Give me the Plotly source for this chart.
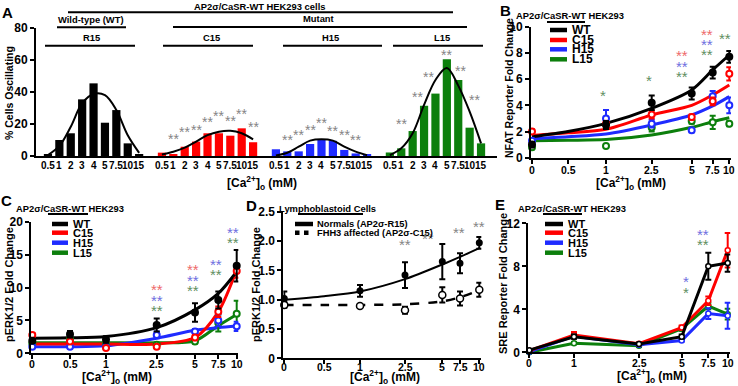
import plotly.graph_objects as go

W, H = 738, 386
FAM = "Liberation Sans, Arial, Helvetica, sans-serif"
BLACK, RED, BLUE, GREEN = "#000000", "#ff0000", "#1f2bff", "#0c7f0c"
SRED, SBLUE, SGREEN, SGRAY = "#ee6a6a", "#6f6fe0", "#5f8f5f", "#858585"

# ---------------- Panel A data ----------------
A_CONC = ["0.5", "1", "2", "3", "4", "5", "7.5", "10", "15"]
A_GROUPS = ["R15", "C15", "H15", "L15"]
A_R15 = [1.2, 10.0, 14.2, 35.4, 45.4, 20.8, 28.7, 7.9, 1.2]
A_C15 = [2.1, 1.0, 5.8, 9.0, 14.2, 14.2, 12.7, 17.3, 8.6]
A_H15 = [4.2, 2.9, 2.9, 7.5, 10.0, 9.5, 3.8, 1.6, 0.8]
A_L15 = [2.2, 4.8, 15.6, 31.4, 39.0, 60.5, 47.5, 17.7, 7.9]
A_FIT_R15 = [0.6, 6.3, 18.3, 33.0, 38.8, 38.0, 28.7, 13.0, 2.0]
A_FIT_C15 = [1.0, 2.7, 5.2, 9.0, 13.0, 15.2, 15.8, 14.2, 10.4]
A_FIT_H15 = [0.3, 2.0, 5.8, 9.6, 10.5, 9.6, 5.8, 2.7, 0.5]
A_FIT_L15 = [0.5, 4.8, 14.2, 31.9, 47.5, 55.0, 44.0, 27.7, 7.9]
A_STAR_C15_AT = [1, 2, 3, 4, 5, 6, 7, 8]
A_STAR_C15_Y = [12.7, 16.7, 18.3, 22.9, 27.1, 24.0, 28.0, 19.8]
A_STAR_H15_AT = [1, 2, 3, 4, 5, 6, 7]
A_STAR_H15_Y = [12.1, 15.2, 18.3, 22.5, 17.7, 15.2, 12.1]
A_STAR_L15_AT = [1, 2.45, 3.4, 5.0, 6.2, 7.4]
A_STAR_L15_Y = [21.9, 39.0, 51.0, 64.8, 54.8, 37.0]

# ---------------- Panel B data (NFAT) ----------------
B_CONC = [0, 1, 2.5, 5, 7.5, 10]
B_WT = [1.0, 2.5, 4.2, 4.9, 6.5, 7.7]
B_WT_ERR = [0.2, 0.3, 0.55, 0.45, 0.45, 0.45]
B_C15 = [2.0, 2.6, 3.3, 3.1, 4.3, 6.4]
B_C15_ERR = [0.15, 0.2, 0.3, 0.2, 0.3, 0.5]
B_H15 = [1.3, 3.0, 2.6, 2.1, 4.7, 4.0]
B_H15_ERR = [0.15, 0.65, 0.3, 0.15, 0.4, 0.6]
B_L15 = [0.8, 0.9, 2.3, 2.8, 2.7, 2.6]
B_L15_ERR = [0.15, 0.15, 0.3, 0.2, 0.5, 0.2]
B_FIT_CONC = [0, 0.5, 1, 2.5, 5, 7.5, 10]
B_FIT_WT = [1.6, 2.0, 2.62, 3.77, 5.17, 6.7, 7.84]
B_FIT_C15 = [1.7, 1.9, 2.17, 3.26, 4.0, 4.79, 5.55]
B_FIT_H15 = [1.45, 1.6, 1.81, 2.5, 3.26, 3.95, 4.66]
B_FIT_L15 = [1.3, 1.33, 1.38, 1.73, 2.32, 2.75, 3.05]
B_STARS = [  # (conc, value, text, colour)
    (0.96, 4.94, "*", SGREEN), (2.4, 6.1, "*", SGREEN),
    (4.4, 8.0, "**", SRED), (4.4, 7.2, "**", SBLUE), (4.4, 6.44, "**", SGREEN),
    (6.8, 9.67, "**", SRED), (6.8, 8.85, "**", SBLUE), (6.8, 8.1, "**", SGREEN),
    (9.4, 10.9, "**", SRED), (9.4, 10.05, "**", SBLUE), (9.4, 9.3, "**", SGREEN),
]

# ---------------- Panel C data (pERK1/2) ----------------
C_CONC = [0, 0.5, 1, 2.5, 5, 7.5, 10]
C_WT = [1.9, 2.9, 2.1, 4.3, 6.2, 8.1, 13.3]
C_WT_ERR = [0.2, 0.5, 0.5, 1.0, 1.4, 1.3, 2.4]
C_C15 = [2.8, 1.8, 0.8, 1.0, 2.4, 6.3, 12.5]
C_C15_ERR = [0.3, 0.2, 0.2, 0.2, 0.4, 0.8, 1.0]
C_H15 = [1.0, 1.0, 1.0, 2.8, 3.3, 5.0, 4.1]
C_H15_ERR = [0.1, 0.1, 0.1, 0.5, 0.4, 0.9, 0.7]
C_L15 = [1.5, 2.1, 1.3, 1.3, 1.8, 4.6, 6.0]
C_L15_ERR = [0.2, 0.2, 0.2, 0.2, 0.3, 1.3, 2.0]
C_FIT_WT = [2.3, 2.35, 2.55, 3.9, 6.6, 9.1, 12.4]
C_FIT_C15 = [1.4, 1.4, 1.4, 1.4, 2.4, 6.3, 12.7]
C_FIT_H15 = [1.0, 1.0, 1.15, 2.3, 3.5, 3.9, 4.15]
C_FIT_L15 = [1.6, 1.6, 1.6, 1.6, 1.9, 4.2, 5.9]
C_STARS = [
    (2.5, 10.1, "**", SRED), (2.5, 8.5, "**", SBLUE), (2.5, 7.0, "**", SGREEN),
    (4.9, 13.2, "**", SRED), (4.9, 11.55, "**", SBLUE), (4.9, 10.0, "**", SGREEN),
    (7.2, 13.9, "**", SBLUE), (7.2, 12.4, "**", SGREEN),
    (9.5, 18.8, "**", SBLUE), (9.5, 17.3, "**", SGREEN),
]

# ---------------- Panel D data (lymphoblastoid pERK1/2) ----------------
D_CONC = [0, 1, 2.5, 5, 7.5, 10]
D_NORM = [1.02, 1.15, 1.42, 1.65, 1.62, 1.97]
D_NORM_ERR = [0.12, 0.1, 0.22, 0.3, 0.17, 0.1]
D_FHH3 = [0.91, 0.89, 0.82, 1.08, 1.02, 1.17]
D_FHH3_ERR = [0.05, 0.03, 0.06, 0.13, 0.12, 0.12]
D_FIT_CONC = [0, 0.5, 1, 2.5, 5, 7.5, 10]
D_FIT_NORM = [1.0, 1.06, 1.14, 1.35, 1.6, 1.73, 1.88]
D_FIT_FHH3 = [0.91, 0.91, 0.91, 0.92, 0.97, 1.04, 1.16]
D_STARS = [(2.5, 1.99), (4.05, 2.1), (7.3, 2.19), (10, 2.3)]

# ---------------- Panel E data (SRE) ----------------
E_CONC = [0, 1, 2.5, 5, 7.5, 10]
E_WT = [0.2, 1.45, 0.78, 1.45, 8.0, 8.3]
E_WT_ERR = [0.05, 0.2, 0.1, 0.2, 1.25, 0.8]
E_C15 = [0.15, 1.6, 0.8, 2.3, 4.8, 9.5]
E_C15_ERR = [0.05, 0.3, 0.1, 0.2, 0.4, 1.6]
E_H15 = [0.05, 1.5, 0.7, 1.1, 3.6, 3.4]
E_H15_ERR = [0.05, 0.2, 0.1, 0.1, 0.5, 1.2]
E_L15 = [0.0, 0.85, 0.6, 2.2, 4.3, 3.55]
E_L15_ERR = [0.05, 0.1, 0.1, 0.2, 0.3, 0.5]
E_STARS = [
    (5.4, 6.9, "*", SBLUE), (5.4, 5.86, "*", SGREEN),
    (7.03, 12.24, "**", SRED), (7.03, 11.2, "**", SBLUE), (7.03, 10.3, "**", SGREEN),
    (10, 13.5, "**", SBLUE), (10, 12.6, "**", SGREEN),
]

# ---------------- x scales (non-linear concentration axes) ----------------
B_SCALE = ([0, 0.5, 1, 2.5, 5, 7.5, 10], [0, 36, 74, 119.7, 159.7, 180.7, 197.3])
C_SCALE = ([0, 0.5, 1, 2.5, 5, 7.5, 10], [0, 37.7, 73.7, 124.4, 162.7, 186, 204.4])
D_SCALE = ([0, 0.5, 1, 2.5, 5, 7.5, 10], [0, 39.7, 75.7, 120.7, 158, 175.7, 195])
E_SCALE = ([0, 1, 2.5, 5, 7.5, 10], [0, 44.7, 109.7, 152.4, 179, 198.4])


def sc(c, scale):
    cs, ps = scale
    for i in range(len(cs) - 1):
        if cs[i] <= c <= cs[i + 1]:
            return ps[i] + (c - cs[i]) / (cs[i + 1] - cs[i]) * (ps[i + 1] - ps[i])
    return ps[-1] + (c - cs[-1]) * (ps[-1] - ps[-2]) / (cs[-1] - cs[-2])


def px(x):
    return x / W


def py(y):
    return 1 - y / H


fig = go.Figure()
ann = []
shapes = []


def text(x, y, s, size=11, color=BLACK, xanchor="center", angle=0, bold=True, xref="paper", yref="paper", yshift=0):
    if xref == "paper":
        x = px(x)
    if yref == "paper":
        y = py(y)
    ann.append(dict(x=x, y=y, xref=xref, yref=yref, text=s, showarrow=False,
                    xanchor=xanchor, yanchor="middle", textangle=angle, yshift=yshift,
                    font=dict(family=FAM, size=size, color=color, weight="bold" if bold else "normal")))


def hline(x0, x1, y, width=2, color=BLACK, dash="solid"):
    shapes.append(dict(type="line", xref="paper", yref="paper", x0=px(x0), x1=px(x1),
                       y0=py(y), y1=py(y), line=dict(color=color, width=width, dash=dash)))


axis_common = dict(showgrid=False, zeroline=False, showline=True, linecolor=BLACK, linewidth=2,
                   ticks="outside", ticklen=4, tickwidth=1.5, tickcolor=BLACK, tickangle=0,
                   tickfont=dict(family=FAM, size=12, color=BLACK, weight="bold"))

layout_axes = {}


def make_axes(n, xdom, ydom, xrange, yrange, xtickvals, xticktext, ytickvals, yticktext,
              xticks="outside", xfont=10.5, label_y=None):
    xa = "xaxis" if n == 1 else f"xaxis{n}"
    ya = "yaxis" if n == 1 else f"yaxis{n}"
    xid = "x" if n == 1 else f"x{n}"
    yid = "y" if n == 1 else f"y{n}"
    xd = dict(axis_common)
    xd.update(domain=[px(xdom[0]), px(xdom[1])], range=xrange, anchor=yid,
              tickvals=xtickvals, ticks=xticks, showticklabels=False)
    yd = dict(axis_common)
    yd.update(domain=[py(ydom[1]), py(ydom[0])], range=yrange, anchor=xid,
              tickvals=ytickvals, ticktext=yticktext)
    layout_axes[xa] = xd
    layout_axes[ya] = yd
    # x tick labels, placed close to the axis as in the original
    for v, t in zip(xtickvals, xticktext):
        ann.append(dict(x=v, y=py(label_y), xref=xid, yref="paper", text=t, showarrow=False,
                        xanchor="center", yanchor="middle",
                        font=dict(family=FAM, size=xfont, color=BLACK, weight="bold")))
    return xid, yid


# ================= Panel A =================
ax, ay = make_axes(1, (36, 497), (28, 156), [-1.05, 39.4], [0, 80],
                   [g * 10 + i for g in range(4) for i in range(9)], A_CONC * 4,
                   [0, 20, 40, 60, 80], ["0", "20", "40", "60", "80"], xticks="", xfont=10, label_y=165)
layout_axes["xaxis"]["ticklen"] = 0
for g, (vals, col) in enumerate([(A_R15, BLACK), (A_C15, RED), (A_H15, BLUE), (A_L15, GREEN)]):
    fig.add_trace(go.Bar(x=[g * 10 + i for i in range(9)], y=vals, width=0.72,
                         marker=dict(color=col, line=dict(width=0)), xaxis=ax, yaxis=ay, showlegend=False))
for g, fit in enumerate([A_FIT_R15, A_FIT_C15, A_FIT_H15, A_FIT_L15]):
    fig.add_trace(go.Scatter(x=[g * 10 + i for i in range(9)], y=fit, mode="lines",
                             line=dict(color=BLACK, width=2, shape="spline", smoothing=1),
                             xaxis=ax, yaxis=ay, showlegend=False))
for g, at, ys in [(1, A_STAR_C15_AT, A_STAR_C15_Y), (2, A_STAR_H15_AT, A_STAR_H15_Y), (3, A_STAR_L15_AT, A_STAR_L15_Y)]:
    for a, v in zip(at, ys):
        text(g * 10 + a, v, "**", size=14, color=SGRAY, bold=False, xref=ax, yref=ay, yshift=-3)

# headings
HEAD = 9.4
text(7, 12, "A", size=15)
text(259, 6, "AP2σ/CaSR-WT HEK293 cells", size=HEAD)
hline(68, 453, 12.3)
text(91, 20, "Wild-type (WT)", size=HEAD)
hline(57, 126, 27.3)
text(318, 19, "Mutant", size=HEAD)
hline(173, 467, 27)
for name, cx, x0, x1 in [("R15", 91, 45, 135), ("C15", 211, 163, 253), ("H15", 330, 283, 382), ("L15", 442, 393, 483)]:
    text(cx, 37.7, name, size=HEAD)
    hline(x0, x1, 45.7)
text(9, 93, "% Cells Oscillating", size=10.5, angle=-90)
text(262, 183, "[Ca<sup>2+</sup>]<sub>o</sub> (mM)", size=12)


# ================= helper for line panels =================
def curve_panel(n, scale, xdom, ydom, xmax, yrange, yticks, yticktext, conc_ticks, tick_labels, label_y):
    xr = [-1, xmax]
    return make_axes(n, xdom, ydom, xr, yrange,
                     [sc(c, scale) for c in conc_ticks], tick_labels, yticks, yticktext, label_y=label_y)


def add_points(xid, yid, scale, conc, vals, err, col, symbol, size, fill, lw=2):
    fig.add_trace(go.Scatter(x=[sc(c, scale) for c in conc], y=vals, mode="markers",
                             marker=dict(symbol=symbol, size=size, color=fill, line=dict(color=col, width=lw)),
                             error_y=dict(type="data", array=err, color=col, thickness=2, width=3),
                             cliponaxis=False, xaxis=xid, yaxis=yid, showlegend=False))


def add_curve(xid, yid, scale, conc, vals, col, width=3, shape="spline", dash="solid"):
    fig.add_trace(go.Scatter(x=[sc(c, scale) for c in conc], y=vals, mode="lines",
                             line=dict(color=col, width=width, shape=shape, smoothing=0.8, dash=dash),
                             xaxis=xid, yaxis=yid, showlegend=False))


def legend4(x0, x1, ys, labels, size):
    for y, lab, col in zip(ys, labels, [BLACK, RED, BLUE, GREEN]):
        hline(x0, x1, y, width=4.5, color=col)
        text(x1 + 3, y, lab, size=size, xanchor="left")


# ================= Panel B =================
bx, by = curve_panel(2, B_SCALE, (531, 731), (26.7, 157.7), 199, [0, 10], [0, 2, 4, 6, 8, 10],
                     ["0", "2", "4", "6", "8", "10"], B_FIT_CONC, ["0", "0.5", "1", "2.5", "5", "7.5", "10"], 170)
for fit, col in [(B_FIT_L15, GREEN), (B_FIT_H15, BLUE), (B_FIT_C15, RED), (B_FIT_WT, BLACK)]:
    add_curve(bx, by, B_SCALE, B_FIT_CONC, fit, col)
for vals, err, col in [(B_L15, B_L15_ERR, GREEN), (B_H15, B_H15_ERR, BLUE), (B_C15, B_C15_ERR, RED)]:
    add_points(bx, by, B_SCALE, B_CONC, vals, err, col, "circle", 6, "white")
add_points(bx, by, B_SCALE, B_CONC, B_WT, B_WT_ERR, BLACK, "circle", 6, BLACK)
for c, v, s, col in B_STARS:
    text(sc(c, B_SCALE), v, s, size=15, color=col, bold=False, xref=bx, yref=by, yshift=-3)
text(505, 11, "B", size=15)
text(570, 15, "AP2σ/CaSR-WT HEK293", size=HEAD)
hline(547, 585, 22)
legend4(550, 567, [30, 40, 49.3, 59.3], ["WT", "C15", "H15", "L15"], 12)
text(509, 88, "NFAT Reporter Fold Change", size=10.5, angle=-90)
text(631, 183, "[Ca<sup>2+</sup>]<sub>o</sub> (mM)", size=12)

# ================= Panel C =================
cx_, cy_ = curve_panel(3, C_SCALE, (31.3, 238.3), (221.7, 353.3), 206, [0, 20], [0, 5, 10, 15, 20],
                       ["0", "5", "10", "15", "20"], C_CONC, ["0", "0.5", "1", "2.5", "5", "7.5", "10"], 364)
for fit, col in [(C_FIT_L15, GREEN), (C_FIT_H15, BLUE), (C_FIT_C15, RED), (C_FIT_WT, BLACK)]:
    add_curve(cx_, cy_, C_SCALE, C_CONC, fit, col)
for vals, err, col in [(C_L15, C_L15_ERR, GREEN), (C_H15, C_H15_ERR, BLUE), (C_C15, C_C15_ERR, RED)]:
    add_points(cx_, cy_, C_SCALE, C_CONC, vals, err, col, "circle", 6, "white")
add_points(cx_, cy_, C_SCALE, C_CONC, C_WT, C_WT_ERR, BLACK, "circle", 6, BLACK)
for c, v, s, col in C_STARS:
    text(sc(c, C_SCALE), v, s, size=15, color=col, bold=False, xref=cx_, yref=cy_, yshift=-3)
text(6, 201, "C", size=15)
text(70, 208, "AP2σ/CaSR-WT HEK293", size=HEAD)
hline(48, 88, 214)
legend4(52, 68, [224, 232.7, 242.7, 252.7], ["WT", "C15", "H15", "L15"], 11)
text(9, 285, "pERK1/2 Fold Change", size=11, angle=-90)
text(117, 377, "[Ca<sup>2+</sup>]<sub>o</sub> (mM)", size=12)

# ================= Panel D =================
dx, dy = curve_panel(4, D_SCALE, (283.3, 481.3), (211.7, 358.3), 197, [0, 2.5], [0, 0.5, 1, 1.5, 2, 2.5],
                     ["0", "0.5", "1.0", "1.5", "2.0", "2.5"], D_FIT_CONC, ["0", "0.5", "1", "2.5", "5", "7.5", "10"], 367)
add_curve(dx, dy, D_SCALE, D_FIT_CONC, D_FIT_FHH3, BLACK, width=2.5, dash="dash")
add_curve(dx, dy, D_SCALE, D_FIT_CONC, D_FIT_NORM, BLACK, width=2)
add_points(dx, dy, D_SCALE, D_CONC, D_NORM, D_NORM_ERR, BLACK, "circle", 5, BLACK)
add_points(dx, dy, D_SCALE, D_CONC, D_FHH3, D_FHH3_ERR, BLACK, "circle", 7, "white", lw=1.5)
for c, v in D_STARS:
    text(sc(c, D_SCALE), v, "**", size=15, color=SGRAY, bold=False, xref=dx, yref=dy, yshift=-3)
text(251, 205, "D", size=15)
text(327, 208, "Lymphoblastoid Cells", size=HEAD)
hline(298, 363, 214)
hline(295, 313, 224, width=4.5)
hline(295, 313, 232.7, width=4.5, dash="dot")
text(315, 224, "Normals (AP2σ-R15)", size=9.3, xanchor="left")
text(315, 232.7, "FHH3 affected (AP2σ-C15)", size=9.3, xanchor="left")
text(256, 285, "pERK1/2 Fold Change", size=11, angle=-90)
text(385, 377, "[Ca<sup>2+</sup>]<sub>o</sub> (mM)", size=12)

# ================= Panel E =================
ex, ey = curve_panel(5, E_SCALE, (528.3, 730.3), (223.3, 352.3), 201, [0, 12], [0, 4, 8, 12],
                     ["0", "4", "8", "12"], E_CONC, ["0", "1", "2.5", "5", "7.5", "10"], 363)
for vals, err, col in [(E_L15, E_L15_ERR, GREEN), (E_H15, E_H15_ERR, BLUE), (E_C15, E_C15_ERR, RED), (E_WT, E_WT_ERR, BLACK)]:
    fig.add_trace(go.Scatter(x=[sc(c, E_SCALE) for c in E_CONC], y=vals, mode="lines+markers",
                             line=dict(color=col, width=3),
                             marker=dict(symbol="circle", size=5, color="white", line=dict(color=col, width=1.5)),
                             error_y=dict(type="data", array=err, color=col, thickness=2, width=3),
                             cliponaxis=False, xaxis=ex, yaxis=ey, showlegend=False))
for c, v, s, col in E_STARS:
    text(sc(c, E_SCALE), v, s, size=15, color=col, bold=False, xref=ex, yref=ey, yshift=-3)
text(500, 204, "E", size=15)
text(572, 208, "AP2σ/CaSR-WT HEK293", size=HEAD)
hline(543, 582, 214)
legend4(545, 563, [224, 232.7, 242.7, 252.7], ["WT", "C15", "H15", "L15"], 11)
text(503, 284, "SRE Reporter Fold Change", size=11, angle=-90)
text(652, 376, "[Ca<sup>2+</sup>]<sub>o</sub> (mM)", size=12)

fig.update_layout(width=W, height=H, margin=dict(l=0, r=0, t=0, b=0, autoexpand=False),
                  paper_bgcolor="white", plot_bgcolor="rgba(0,0,0,0)",
                  barmode="overlay", showlegend=False,
                  font=dict(family=FAM, color=BLACK),
                  annotations=ann, shapes=shapes, **layout_axes)
fig.write_html("out.html", config=dict(displayModeBar=False),
               post_script="document.body.style.margin='0';document.body.style.overflow='hidden';")
